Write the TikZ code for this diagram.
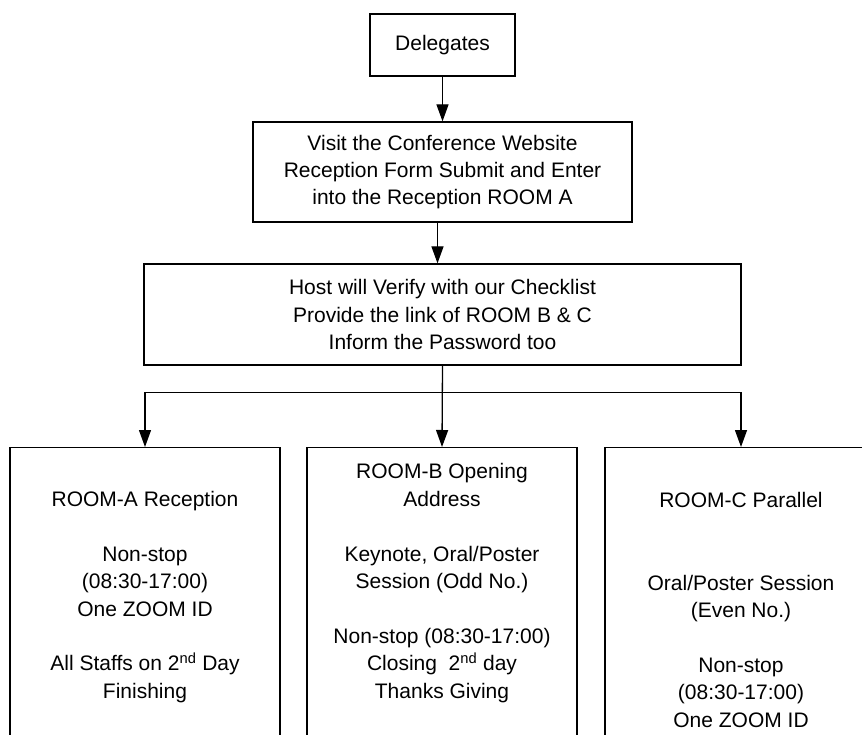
\documentclass[tikz,border=0pt]{standalone}
\usepackage{fontspec}
\setmainfont{Liberation Sans}
\usetikzlibrary{arrows.meta}
\begin{document}
\begin{tikzpicture}[x=1pt,y=-1pt,
  box/.style={draw, line width=1.3pt, rectangle, inner sep=0pt},
  txt/.style={align=center, font=\fontsize{21}{27.4}\selectfont, inner sep=0pt},
  flow/.style={line width=1.3pt, -{Triangle[length=17pt,width=12pt]}}]
  \useasboundingbox (0,0) rectangle (862,735);
  \clip (0,0) rectangle (862,735);

  % upper chain of boxes
  \node[box, txt, minimum width=145pt, minimum height=62pt] (dlg) at (442.5,45) {Delegates};
  \node[box, txt, minimum width=379pt, minimum height=100pt] (visit) at (442.5,172)
    {Visit the Conference Website\\Reception Form Submit and Enter\\into the Reception ROOM A};
  \node[box, txt, minimum width=597pt, minimum height=101pt] (host) at (442.5,314.5)
    {Host will Verify with our Checklist\\Provide the link of ROOM B \& C\\Inform the Password too};

  % the three rooms (run past the lower edge)
  \node[box, anchor=north, minimum width=270pt, minimum height=330pt] (roomA) at (145,447) {};
  \node[box, anchor=north, minimum width=270pt, minimum height=330pt] (roomB) at (442,447) {};
  \node[box, anchor=north, minimum width=272pt, minimum height=330pt] (roomC) at (741,447) {};

  \node[txt] (roomAtxt) at (145,597)
    {ROOM-A Reception\\[27.4pt]Non-stop\\(08:30-17:00)\\One ZOOM ID\\[27.4pt]All Staffs on 2\textsuperscript{nd} Day\\Finishing};
  \node[txt] (roomBtxt) at (442,583)
    {ROOM-B Opening\\Address\\[27.4pt]Keynote, Oral/Poster\\Session (Odd No.)\\[27.4pt]Non-stop (08:30-17:00)\\Closing~ 2\textsuperscript{nd} day\\Thanks Giving};
  \node[txt] (roomCtxt) at (741,610)
    {ROOM-C Parallel\\[54.8pt]Oral/Poster Session\\(Even No.)\\[27.4pt]Non-stop\\(08:30-17:00)\\One ZOOM ID};

  % connectors
  \draw[flow] (dlg.south) -- (visit.north);
  \path (visit.south) ++(-5,0) coordinate (vout);
  \draw[flow] (vout) -- (vout |- host.north);
  \path (host.south) ++(0,27) coordinate (split);
  \draw[flow] (host.south) -- (roomB.north);
  \draw[flow] (split) -| (roomA.north);
  \draw[flow] (split) -| (roomC.north);
\end{tikzpicture}
\end{document}
